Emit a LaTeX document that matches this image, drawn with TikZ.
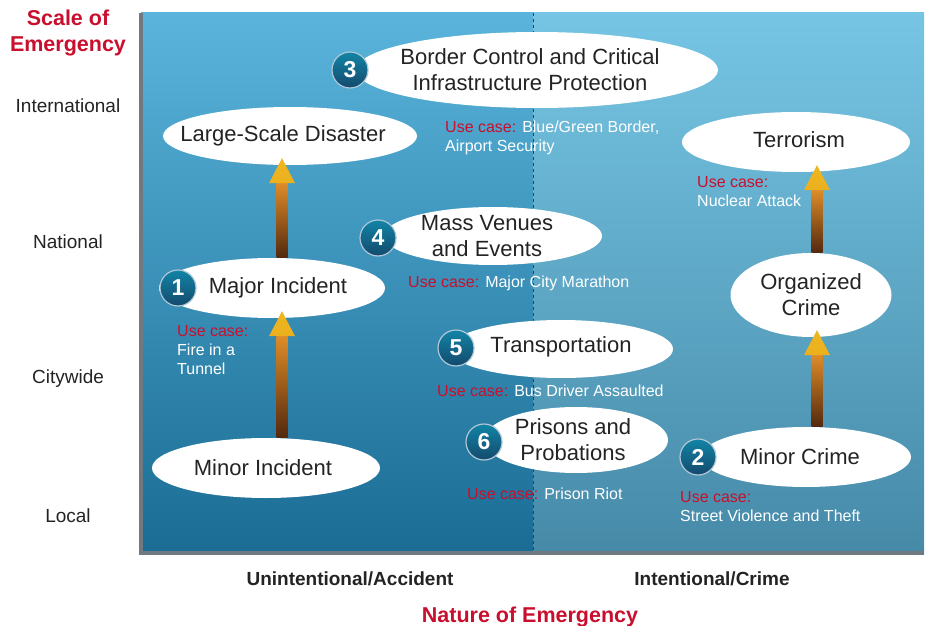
\documentclass[tikz,border=0pt]{standalone}
\usepackage{fontspec}
\setmainfont{Liberation Sans}
\usepackage{tikz}
\usetikzlibrary{shapes.geometric,calc}

\definecolor{alertred}{RGB}{200,16,46}
\definecolor{axisgray}{RGB}{112,120,128}
\definecolor{inkgray}{RGB}{35,35,35}
\definecolor{dotblue}{RGB}{24,92,136}
\definecolor{leftsky}{RGB}{90,180,219}
\definecolor{leftmid}{RGB}{34,150,202}
\definecolor{leftdeep}{RGB}{26,108,148}
\definecolor{rightsky}{RGB}{118,197,228}
\definecolor{rightmid}{RGB}{56,163,206}
\definecolor{rightdeep}{RGB}{70,138,168}
\definecolor{riseyellow}{RGB}{238,182,30}
\definecolor{riseorange}{RGB}{222,140,40}
\definecolor{riserust}{RGB}{178,76,32}
\definecolor{risebrown}{RGB}{82,40,14}

\tikzset{
  caseoval/.style={ellipse, fill=white, inner sep=0pt},
  ovaltext/.style={text=inkgray, align=center, font=\fontsize{22}{26}\selectfont},
  numdot/.style={circle, minimum size=36pt, inner sep=0pt, draw=white!65!dotblue,
    line width=1.2pt, top color=dotblue!75!cyan, bottom color=dotblue!80!black,
    text=white, font=\bfseries\fontsize{23}{23}\selectfont},
  usecase/.style={anchor=north west, align=left, inner sep=0pt, text=white,
    font=\fontsize{16}{19}\selectfont},
  scalelbl/.style={text=inkgray, font=\fontsize{19}{20}\selectfont},
  naturelbl/.style={text=inkgray, font=\bfseries\fontsize{19}{20}\selectfont},
  axistitle/.style={text=alertred, align=center, font=\bfseries\fontsize{21.5}{26}\selectfont},
  riseshaft/.style={top color=riseorange, middle color=riserust, bottom color=risebrown},
  risehead/.style={top color=riseyellow, bottom color=riseyellow!85!riseorange},
}

\newcommand\uc{\textcolor{alertred}{Use case:}}
% shaded arrow rising from one oval to the next, at a given x
\newcommand\risearrow[3]{%
  \shade[riseshaft] let \p1=(#2.north), \p2=(#3.south) in
    (#1pt-5.5pt,\y1) rectangle (#1pt+5.5pt,\y2-18pt);
  \shade[risehead] let \p2=(#3.south) in
    (#1pt-13pt,\y2-18pt) -- (#1pt,\y2+7pt) -- (#1pt+13pt,\y2-18pt) -- cycle;}

\begin{document}
\begin{tikzpicture}[x=1pt,y=-1pt]
  \useasboundingbox (0,0) rectangle (927,626);

  % panel
  \shade[top color=leftsky, middle color=leftmid, bottom color=leftdeep] (141,13) rectangle (533,553);
  \shade[top color=rightsky, middle color=rightmid, bottom color=rightdeep] (533,13) rectangle (924,553);
  \draw[dotblue!80!black, dashed, line width=0.8pt] (533,13) -- (533,551);
  \draw[axisgray, line width=4pt] (141,13) -- (141,553) -- (924,553);

  % ovals
  \node[caseoval, minimum width=362pt, minimum height=76pt,
    label={[ovaltext,xshift=-7pt]center:{Border Control and Critical\\Infrastructure Protection}}] (border) at (537,70) {};
  \node[caseoval, minimum width=254pt, minimum height=58pt,
    label={[ovaltext,xshift=-7pt]center:Large-Scale Disaster}] (largescale) at (290,136) {};
  \node[caseoval, minimum width=228pt, minimum height=60pt,
    label={[ovaltext,xshift=3pt,yshift=2pt]center:Terrorism}] (terror) at (796,142) {};
  \node[caseoval, minimum width=218pt, minimum height=58pt,
    label={[ovaltext,xshift=-6pt]center:{Mass Venues\\and Events}}] (venues) at (493,236) {};
  \node[caseoval, minimum width=226pt, minimum height=60pt,
    label={[ovaltext,xshift=6pt]center:Major Incident}] (majinc) at (272,288) {};
  \node[caseoval, minimum width=161pt, minimum height=84pt,
    label={[ovaltext]center:{Organized\\Crime}}] (orgcrime) at (811,295) {};
  \node[caseoval, minimum width=224pt, minimum height=58pt,
    label={[ovaltext,yshift=2pt]center:Transportation}] (transport) at (561,349) {};
  \node[caseoval, minimum width=184pt, minimum height=66pt,
    label={[ovaltext,xshift=-3pt]center:{Prisons and\\Probations}}] (prisons) at (576,440) {};
  \node[caseoval, minimum width=210pt, minimum height=60pt,
    label={[ovaltext,xshift=-6pt]center:Minor Crime}] (mincrime) at (806,457) {};
  \node[caseoval, minimum width=228pt, minimum height=60pt,
    label={[ovaltext,xshift=-3pt]center:Minor Incident}] (minorinc) at (266,468) {};

  % escalation arrows
  \risearrow{282}{minorinc}{majinc}
  \risearrow{282}{majinc}{largescale}
  \risearrow{817}{mincrime}{orgcrime}
  \risearrow{817}{orgcrime}{terror}

  % numbers
  \node[numdot] (n1) at (178,288) {1};
  \node[numdot] (n2) at (698,457) {2};
  \node[numdot] (n3) at (350,70) {3};
  \node[numdot] (n4) at (378,238) {4};
  \node[numdot] (n5) at (456,348) {5};
  \node[numdot] (n6) at (484,442) {6};

  % use cases
  \node[usecase] (ucborder) at (445,121) {\uc{} Blue/Green Border,\\Airport Security};
  \node[usecase] (ucterror) at (697,176) {\uc\\Nuclear Attack};
  \node[usecase] (ucvenues) at (408,276) {\uc{} Major City Marathon};
  \node[usecase] (ucmajinc) at (177,325) {\uc\\Fire in a\\Tunnel};
  \node[usecase] (uctransport) at (437,385) {\uc{} Bus Driver Assaulted};
  \node[usecase] (ucprisons) at (467,488) {\uc{} Prison Riot};
  \node[usecase] (ucmincrime) at (680,491) {\uc\\Street Violence and Theft};

  % axes
  \node[axistitle] (scaletitle) at (68,33) {Scale of\\Emergency};
  \node[scalelbl] (intl) at (68,106) {International};
  \node[scalelbl] (natl) at (68,242) {National};
  \node[scalelbl] (city) at (68,379) {Citywide};
  \node[scalelbl] (local) at (68,516) {Local};
  \node[naturelbl] (accident) at (350,579) {Unintentional/Accident};
  \node[naturelbl] (crime) at (712,579) {Intentional/Crime};
  \node[axistitle] (naturetitle) at (530,617) {Nature of Emergency};
\end{tikzpicture}
\end{document}
